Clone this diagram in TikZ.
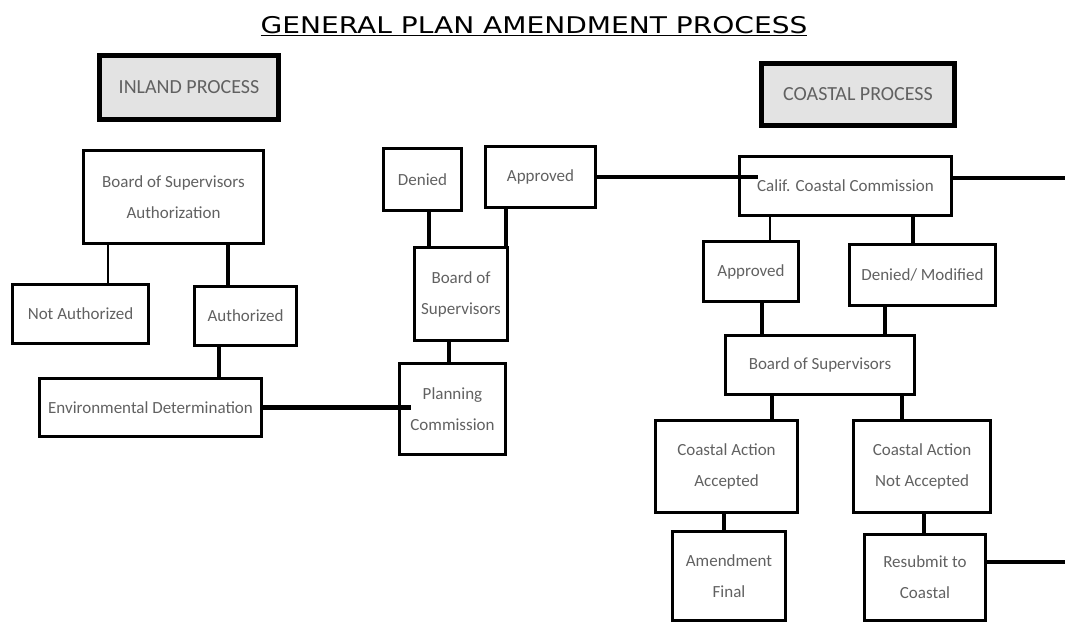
\documentclass[tikz,border=0pt]{standalone}
\usepackage{graphicx}
\usepackage{fontspec}
\setmainfont{Carlito}
\newfontfamily\titlefont{DejaVu Sans}
\tikzset{
  box/.style={draw, line width=3.5, text=black!62, align=center, inner sep=0,
    font=\fontsize{17}{31}\selectfont},
  procbox/.style={box, line width=5.5, fill=black!11, font=\fontsize{20}{24}\selectfont},
  link/.style={line width=4.5},
  thinlink/.style={line width=2.5},
}
\begin{document}
\begin{tikzpicture}[x=1pt, y=-1pt]
  \useasboundingbox (0,0) rectangle (1065,624);
  \node (title) at (534,26) {\titlefont\fontsize{23}{28}\selectfont
    \scalebox{1.22}[1]{\underline{GENERAL PLAN AMENDMENT PROCESS}}};
  % inland side
  \node[procbox, minimum width=179, minimum height=64] (inland) at (189,87.5) {INLAND PROCESS};
  \node[box, minimum width=180, minimum height=93] (bosa) at (173.5,197) {Board of Supervisors\\Authorization};
  \node[box, minimum width=136, minimum height=59] (notauth) at (80.5,314) {Not Authorized};
  \node[box, minimum width=102, minimum height=59] (authd) at (245.5,316) {Authorized};
  \node[box, minimum width=222, minimum height=58] (envdet) at (150.5,407.5) {Environmental Determination};
  \node[box, minimum width=106, minimum height=91] (plancom) at (452.5,409) {Planning\\Commission};
  \node[box, minimum width=93, minimum height=93] (bosm) at (461,294) {Board of\\Supervisors};
  \node[box, minimum width=78, minimum height=62] (denied) at (422.5,179.5) {Denied};
  \node[box, minimum width=110, minimum height=61] (apprl) at (540.5,177) {Approved};
  % coastal side
  \node[procbox, minimum width=193, minimum height=62] (coastal) at (858,94.5) {COASTAL PROCESS};
  \node[box, minimum width=212, minimum height=59] (ccc) at (845.5,186) {Calif. Coastal Commission};
  \node[box, minimum width=95, minimum height=60] (apprr) at (751,271.5) {Approved};
  \node[box, minimum width=146, minimum height=61] (denmod) at (922.5,275) {Denied/ Modified};
  \node[box, minimum width=189, minimum height=59] (bosr) at (820,365) {Board of Supervisors};
  \node[box, minimum width=142, minimum height=92] (caa) at (726.5,466.5) {Coastal Action\\Accepted};
  \node[box, minimum width=137, minimum height=92] (cana) at (922,466.5) {Coastal Action\\Not Accepted};
  \node[box, minimum width=113, minimum height=89] (amdfin) at (729,576) {Amendment\\Final};
  \node[box, minimum width=121, minimum height=86] (resub) at (925,577.5) {Resubmit to\\Coastal};
  \coordinate (ccout) at (1065,178);
  \coordinate (rsout) at (1065,562);
  \begin{scope}[link]
    \draw[thinlink] (bosa.south -| 108,0) to (notauth.north -| 108,0);
    \draw (bosa.south -| 228,0) to (authd.north -| 228,0);
    \draw (authd.south -| 219,0) to (envdet.north -| 219,0);
    \draw (envdet.east) to ([xshift=13pt]plancom.west |- envdet.east);
    \draw (bosm.south -| 449,0) to (plancom.north -| 449,0);
    \draw (denied.south -| 429,0) to (bosm.north -| 429,0);
    \draw (apprl.south -| 506,0) to (bosm.north -| 506,0);
    \draw (apprl.east) to ([xshift=20pt]ccc.west |- apprl.east);
    \draw (ccc.east |- ccout) to (ccout);
    \draw[thinlink] (ccc.south -| 770,0) to (apprr.north -| 770,0);
    \draw (ccc.south -| 913,0) to (denmod.north -| 913,0);
    \draw (apprr.south -| 762,0) to (bosr.north -| 762,0);
    \draw (denmod.south -| 885,0) to (bosr.north -| 885,0);
    \draw (bosr.south -| 772,0) to (caa.north -| 772,0);
    \draw (bosr.south -| 902,0) to (cana.north -| 902,0);
    \draw (caa.south -| 724,0) to (amdfin.north -| 724,0);
    \draw (cana.south -| 924,0) to (resub.north -| 924,0);
    \draw (resub.east |- rsout) to (rsout);
  \end{scope}
\end{tikzpicture}
\end{document}
